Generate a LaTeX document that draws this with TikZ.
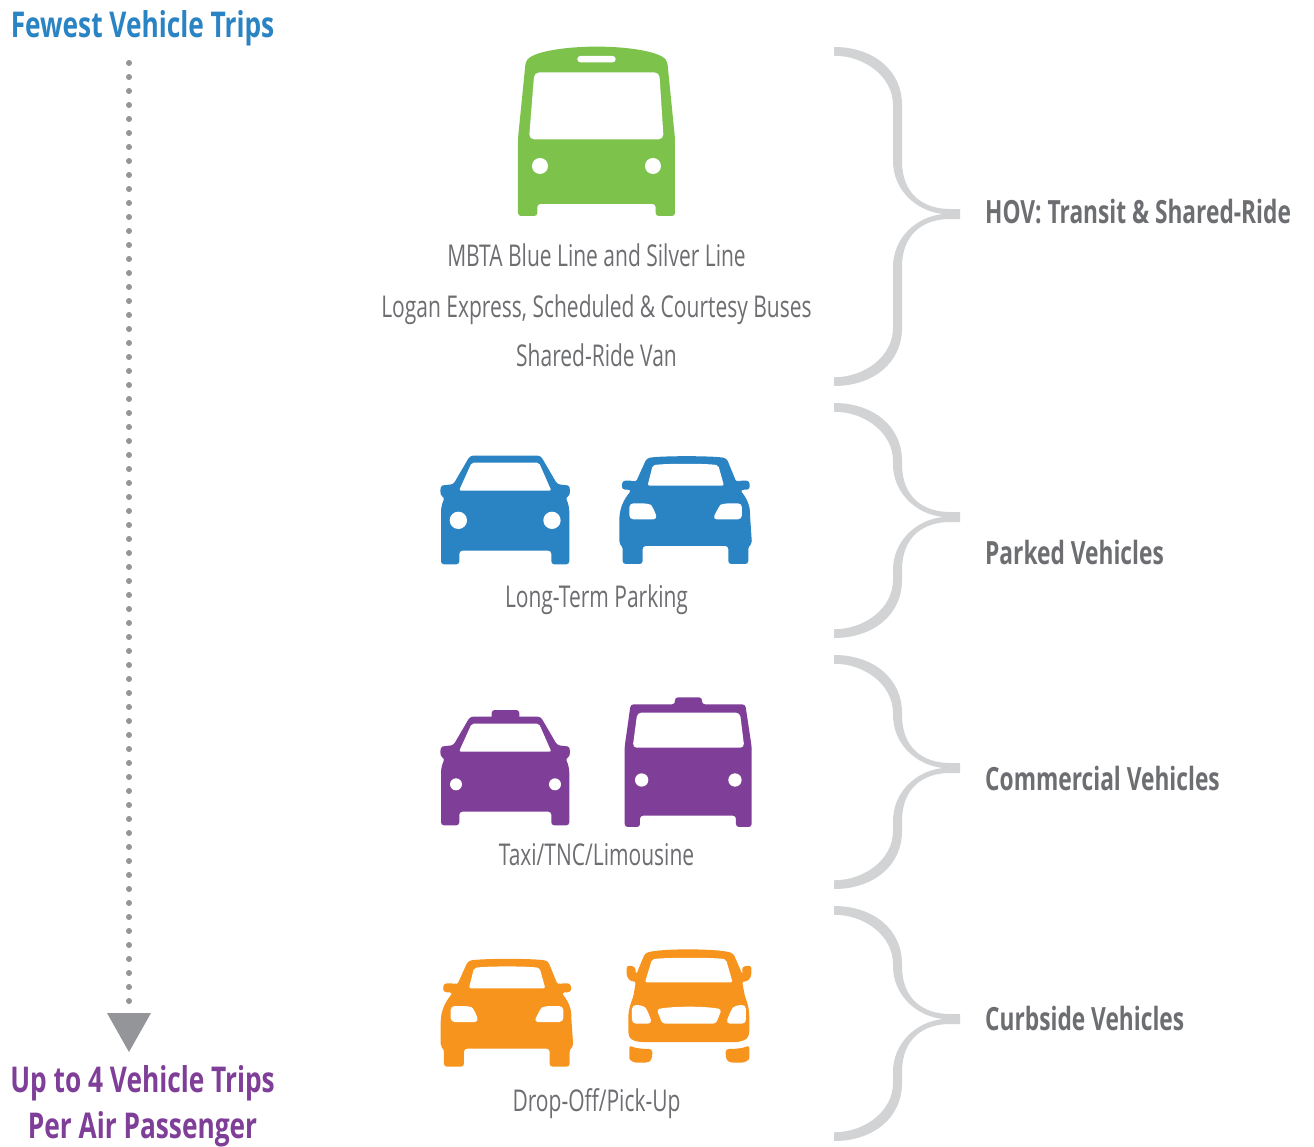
\documentclass[tikz,border=0pt]{standalone}
\usepackage{fontspec}
\setmainfont{Open Sans}
\newfontfamily\lblfont[FakeStretch=0.70]{Open Sans}
\newfontfamily\grpfont[FakeStretch=0.71]{Open Sans}
\newfontfamily\headfont[FakeStretch=0.74]{Open Sans}
\definecolor{busgreen}{HTML}{7DC24B}
\definecolor{carblue}{HTML}{2A83C3}
\definecolor{taxipurple}{HTML}{7F3F98}
\definecolor{droporange}{HTML}{F7941E}
\definecolor{txtgray}{HTML}{6D6E71}
\definecolor{bracegray}{HTML}{D1D3D4}
\definecolor{arrowgray}{HTML}{939598}
\definecolor{headblue}{HTML}{2A83C3}
\tikzset{
  zoomed/.style={x=0.3333pt,y=-0.3333pt},
  cutout/.style={fill=white,draw=none},
  lbl/.style={font=\lblfont\fontsize{30}{30}\selectfont,text=txtgray,inner sep=0pt,anchor=base},
  grp/.style={font=\grpfont\bfseries\fontsize{32}{32}\selectfont,text=txtgray,inner sep=0pt,anchor=base west},
  ttl/.style={font=\headfont\bfseries\fontsize{35.5}{35.5}\selectfont,inner sep=0pt,anchor=base},
}
\newcommand{\mybrace}[3]{%
 \fill[bracegray] (834,#1) .. controls (873,#1) and (902,#1+23) .. (902,#1+58)
  -- (902,#2-53) .. controls (902,#2-20) and (923,#2-5) .. (950,#2-5)
  -- (960,#2-5) -- (960,#2+5) -- (950,#2+5)
  .. controls (923,#2+5) and (902,#2+20) .. (902,#2+53)
  -- (902,#3-58) .. controls (902,#3-23) and (873,#3) .. (834,#3)
  -- (834,#3-8.7) .. controls (865,#3-8.7) and (893,#3-30) .. (893,#3-58)
  -- (893,#2+53) .. controls (893,#2+25) and (915,#2+3) .. (943,#2)
  .. controls (915,#2-3) and (893,#2-25) .. (893,#2-53)
  -- (893,#1+58) .. controls (893,#1+30) and (865,#1+8.7) .. (834,#1+8.7) -- cycle;}
% sedan A, zoomed coordinates of the blue left car
\newcommand{\carbody}{%
  [rounded corners=3pt] (150,47) -- (362,47) -- (412,133) -- (435,135)
  .. controls (452,138) and (452,166) .. (436,172)
  .. controls (445,190) and (448,205) .. (448,225)
  -- (448,373) -- (394,373) -- (394,332) -- (118,332) -- (118,373) -- (63,373) -- (63,225)
  .. controls (63,205) and (66,190) .. (75,172)
  .. controls (59,166) and (59,138) .. (76,135)
  -- (100,133) -- cycle}
% sedan B, zoomed coordinates of the blue right car
\newcommand{\sedanb}[1]{%
  \fill[#1,rounded corners=3pt] (680,55) .. controls (720,47) and (880,47) .. (920,55)
   -- (950,128) -- (956,122) -- (988,122) -- (990,148) -- (960,150)
   .. controls (985,180) and (990,205) .. (990,225)
   -- (996,312) -- (985,318) -- (985,372) -- (925,372) -- (925,318) -- (668,318) -- (668,372) -- (608,372) -- (608,318)
   -- (598,312) -- (598,240) .. controls (600,205) and (610,180) .. (635,150)
   -- (605,148) -- (607,122) -- (640,122) -- (647,128) -- cycle;
  \fill[cutout,rounded corners=2pt] (683,137) -- (912,137) -- (895,76) .. controls (860,70) and (735,70) .. (698,76) -- cycle;
  \fill[cutout,rounded corners=4pt] (628,190) -- (680,190) .. controls (695,195) and (705,215) .. (712,238) -- (628,238) -- cycle;
  \fill[cutout,rounded corners=4pt] (966,190) -- (914,190) .. controls (899,195) and (889,215) .. (878,238) -- (966,238) -- cycle;}
\begin{document}
\begin{tikzpicture}[x=1pt,y=-1pt]
\useasboundingbox (0,0) rectangle (1314,1146);
\fill[white] (0,0) rectangle (1314,1146);

% left column
\node[ttl,text=headblue] (fewest) at (142.5,37) {Fewest Vehicle Trips};
\node[ttl,text=taxipurple] (upto) at (142.5,1092) {Up to 4 Vehicle Trips};
\node[ttl,text=taxipurple] (perair) at (142.5,1138) {Per Air Passenger};
\coordinate (dotstart) at (129,63);
\coordinate (dotend) at (129,1013);
\draw[arrowgray,line width=6pt,line cap=round,dash pattern=on 0pt off 14pt] (dotstart) -- (dotend);
\fill[arrowgray] (107,1013) -- (151,1013) -- (129,1052) -- cycle;

% bus
\begin{scope}[shift={(420,30)},zoomed]
 \fill[busgreen,rounded corners=3pt] (317,95) .. controls (345,62) and (450,50) .. (530,50)
   .. controls (610,50) and (715,62) .. (742,95)
   -- (765,325) -- (765,558) -- (707,558) -- (707,522) -- (352,522) -- (352,558) -- (294,558) -- (294,325) -- cycle;
 \fill[cutout,rounded corners=5pt] (343,127) -- (718,127) -- (731,328) -- (327,328) -- cycle;
 \fill[cutout,rounded corners=3pt] (472,78) rectangle (587,97);
 \fill[cutout] (360,408) circle[radius=24];
 \fill[cutout] (699,408) circle[radius=24];
\end{scope}

% blue pair
\begin{scope}[shift={(420,440)},zoomed]
 \fill[carblue] \carbody;
 \fill[cutout,rounded corners=2pt] (155,68) -- (357,68) -- (394,152) -- (117,152) -- cycle;
 \fill[cutout] (115,241) circle[radius=26];
 \fill[cutout] (396,241) circle[radius=26];
 \sedanb{carblue}
\end{scope}

% purple pair
\begin{scope}[shift={(420,690)},zoomed]
 \begin{scope}[yshift=-11pt]
  \fill[taxipurple] \carbody;
  \fill[cutout,rounded corners=2pt] (155,68) -- (357,68) -- (394,152) -- (117,152) -- cycle;
 \end{scope}
 \fill[taxipurple,rounded corners=3pt] (215,90) -- (215,60) -- (298,60) -- (298,90) -- cycle;
 \fill[cutout] (108,283) circle[radius=18];
 \fill[cutout] (405,283) circle[radius=18];
 \fill[taxipurple,rounded corners=3pt] (632,43) -- (765,43) -- (765,22) -- (846,22) -- (846,43) -- (976,43)
   -- (995,170) -- (995,411) -- (948,411) -- (948,377) -- (660,377) -- (660,411) -- (614,411) -- (614,170) -- cycle;
 \fill[cutout,rounded corners=4pt] (652,68) -- (960,68) -- (973,173) -- (638,173) -- cycle;
 \fill[cutout] (665,270) circle[radius=20];
 \fill[cutout] (945,270) circle[radius=20];
\end{scope}

% orange pair
\begin{scope}[shift={(420,940)},zoomed]
 \begin{scope}[shift={(-178.67pt,-2.67pt)}]
  \sedanb{droporange}
 \end{scope}
 \fill[droporange,rounded corners=3pt] (675,40) .. controls (720,25) and (890,25) .. (940,40)
   -- (968,105) -- (966,80) -- (994,76) -- (994,110) -- (980,126) -- (966,122)
   -- (975,170) .. controls (985,195) and (988,215) .. (988,240) -- (988,282)
   .. controls (980,300) and (960,306) .. (940,306) -- (675,306)
   .. controls (650,306) and (632,300) .. (625,282) -- (625,240)
   .. controls (625,215) and (630,195) .. (640,170) -- (648,122) -- (634,126) -- (620,110) -- (620,76) -- (646,80) -- (648,105) -- cycle;
 \fill[cutout,rounded corners=2pt] (675,127) -- (938,127) -- (918,58) .. controls (880,52) and (735,52) .. (696,58) -- cycle;
 \fill[cutout,rounded corners=4pt] (636,195) -- (665,195) .. controls (680,205) and (690,230) .. (696,251) -- (636,251) -- cycle;
 \fill[cutout,rounded corners=4pt] (978,195) -- (950,195) .. controls (935,205) and (925,230) .. (918,251) -- (978,251) -- cycle;
 \fill[cutout,rounded corners=3pt] (710,208) .. controls (760,198) and (855,198) .. (905,208) -- (888,251) -- (727,251) -- cycle;
 \fill[droporange,rounded corners=3pt] (628,315) .. controls (645,325) and (670,327) .. (697,327) -- (697,350)
   .. controls (690,368) and (675,368) .. (660,368) .. controls (640,368) and (628,360) .. (628,345) -- cycle;
 \fill[droporange,rounded corners=3pt] (988,315) .. controls (970,325) and (945,327) .. (917,327) -- (917,350)
   .. controls (924,368) and (940,368) .. (955,368) .. controls (975,368) and (988,360) .. (988,345) -- cycle;
\end{scope}

% centre labels
\node[lbl] (mbta) at (596.5,266) {MBTA Blue Line and Silver Line};
\node[lbl] (logan) at (596.5,317) {Logan Express, Scheduled \& Courtesy Buses};
\node[lbl] (van) at (596.5,366) {Shared-Ride Van};
\node[lbl] (ltp) at (596.5,607) {Long-Term Parking};
\node[lbl] (taxi) at (596.5,865) {Taxi/TNC/Limousine};
\node[lbl] (drop) at (596.5,1111) {Drop-Off/Pick-Up};

% braces
\mybrace{47}{214}{386}
\mybrace{403}{517}{638}
\mybrace{655}{768}{889}
\mybrace{906}{1019}{1141}

% group labels
\node[grp] (hov) at (985,223) {HOV: Transit \& Shared-Ride};
\node[grp] (parked) at (985,564) {Parked Vehicles};
\node[grp] (comm) at (985,790) {Commercial Vehicles};
\node[grp] (curb) at (985,1030) {Curbside Vehicles};
\end{tikzpicture}
\end{document}
